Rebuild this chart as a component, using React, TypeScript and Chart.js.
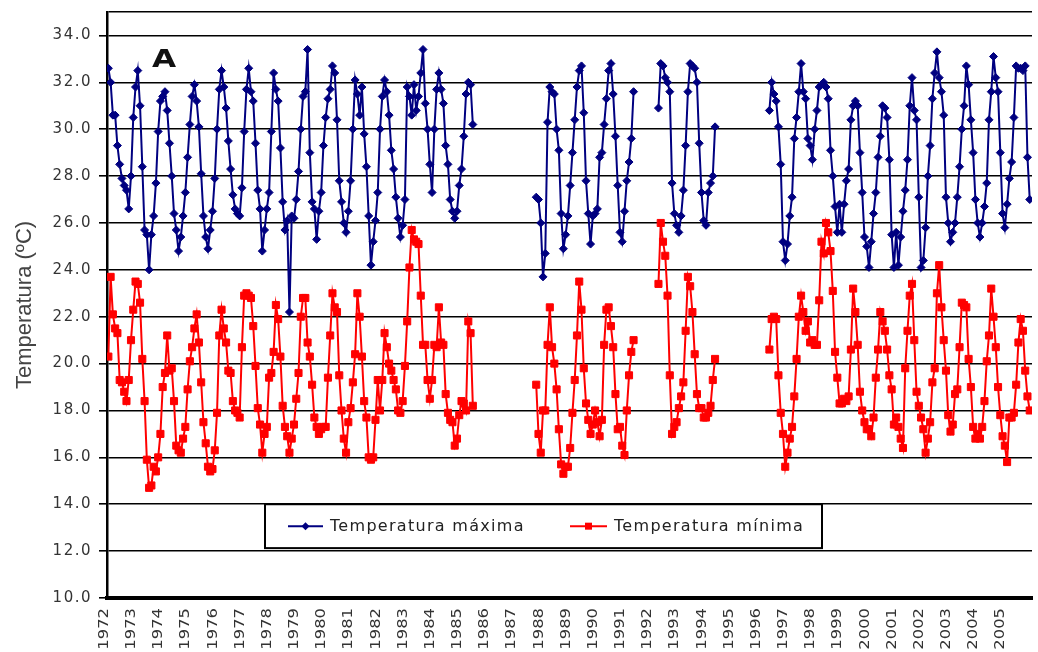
import { useEffect, useRef } from 'react';
import { Chart, registerables } from 'chart.js';

Chart.register(...registerables);

const _ = null;
const firstYear = 1972;

// x-axis tick labels (years)
const yearTicks = [
  1972, 1973, 1974, 1975, 1976, 1977, 1978, 1979, 1980, 1981, 1982, 1983,
  1984, 1985, 1986, 1987, 1988, 1989, 1990, 1991, 1992, 1993, 1994, 1995,
  1996, 1997, 1998, 1999, 2000, 2001, 2002, 2003, 2004, 2005,
];

// y-axis tick values
const yTicks = [10, 12, 14, 16, 18, 20, 22, 24, 26, 28, 30, 32, 34];

const seriesNames = ['Temperatura máxima', 'Temperatura mínima'];

// monthly maximum temperature, Jan..Dec per row, starting 1972
const tmax: (number | null)[] = [
  32.6, 32.0, 30.6, 30.6, 29.3, 28.5, 27.9, 27.6, 27.4, 26.6, 28.0, 30.5, // 1972
  31.8, 32.5, 31.0, 28.4, 25.7, 25.5, 24.0, 25.5, 26.3, 27.7, 29.9, 31.2, // 1973
  31.4, 31.6, 30.8, 29.4, 28.0, 26.4, 25.7, 24.8, 25.4, 26.3, 27.3, 28.8, // 1974
  30.2, 31.4, 31.9, 31.2, 30.1, 28.1, 26.3, 25.4, 24.9, 25.7, 26.5, 27.9, // 1975
  30.0, 31.7, 32.5, 31.8, 30.9, 29.5, 28.3, 27.2, 26.6, 26.4, 26.3, 27.5, // 1976
  29.9, 31.7, 32.6, 31.6, 31.2, 29.4, 27.4, 26.6, 24.8, 25.7, 26.6, 27.3, // 1977
  29.9, 32.4, 31.7, 31.2, 29.2, 26.9, 25.7, 26.1, 22.2, 26.3, 26.2, 27.0, // 1978
  28.2, 30.0, 31.4, 31.6, 33.4, 29.0, 26.9, 26.6, 25.3, 26.5, 27.3, 29.3, // 1979
  30.5, 31.3, 31.7, 32.7, 32.4, 30.4, 27.8, 26.9, 26.0, 25.6, 26.5, 27.8, // 1980
  30.0, 32.1, 31.5, 30.6, 31.8, 29.8, 28.4, 26.3, 24.2, 25.2, 26.1, 27.3, // 1981
  30.0, 31.4, 32.1, 31.6, 30.6, 29.1, 28.3, 27.1, 26.2, 25.4, 25.9, 27.0, // 1982
  31.8, 31.4, 30.6, 31.9, 30.8, 31.4, 32.4, 33.4, 31.1, 30.0, 28.5, 27.3, // 1983
  30.0, 31.7, 32.4, 31.7, 31.1, 29.3, 28.5, 27.0, 26.5, 26.2, 26.5, 27.6, // 1984
  28.3, 29.7, 31.5, 32.0, 31.9, 30.2, _, _, _, _, _, _, // 1985
  _, _, _, _, _, _, _, _, _, _, _, _, // 1986
  _, _, _, _, _, _, _, _, _, 27.1, 27.0, 26.0, // 1987
  23.7, 24.7, 30.3, 31.8, 31.6, 31.5, 30.0, 29.1, 26.4, 24.9, 25.5, 26.3, // 1988
  27.6, 29.0, 30.4, 31.8, 32.5, 32.7, 30.7, 27.8, 26.4, 25.1, 26.3, 26.4, // 1989
  26.6, 28.8, 29.0, 30.2, 31.3, 32.5, 32.8, 31.5, 29.7, 27.6, 25.6, 25.2, // 1990
  26.5, 27.8, 28.6, 29.6, 31.6, _, _, _, _, _, _, _, // 1991
  _, _, _, 30.9, 32.8, 32.7, 32.2, 32.0, 31.6, 27.7, 26.4, 25.9, // 1992
  25.6, 26.3, 27.4, 29.3, 31.6, 32.8, 32.7, 32.6, 32.0, 29.4, 27.3, 26.1, // 1993
  25.9, 27.3, 27.7, 28.0, 30.1, _, _, _, _, _, _, _, // 1994
  _, _, _, _, _, _, _, _, _, _, _, _, // 1995
  _, _, _, _, 30.8, 32.0, 31.5, 31.2, 30.1, 28.5, 25.2, 24.4, // 1996
  25.1, 26.3, 27.1, 29.6, 30.5, 31.6, 32.8, 31.6, 31.3, 29.6, 29.3, 28.7, // 1997
  30.0, 30.8, 31.8, 31.9, 32.0, 31.8, 31.3, 29.1, 28.0, 26.7, 25.6, 26.8, // 1998
  25.6, 26.8, 27.8, 28.3, 30.4, 31.0, 31.2, 31.0, 29.0, 27.3, 25.4, 25.0, // 1999
  24.1, 25.2, 26.4, 27.3, 28.8, 29.7, 31.0, 30.9, 30.5, 28.7, 25.5, 24.1, // 2000
  25.6, 24.2, 25.4, 26.5, 27.4, 28.7, 31.0, 32.2, 30.8, 30.4, 27.1, 24.1, // 2001
  24.4, 25.8, 28.0, 29.3, 31.3, 32.4, 33.3, 32.2, 31.6, 30.6, 27.1, 26.0, // 2002
  25.2, 25.6, 26.0, 27.1, 28.4, 30.0, 31.0, 32.7, 31.9, 30.4, 29.0, 27.0, // 2003
  26.0, 25.4, 26.0, 26.7, 27.7, 30.4, 31.6, 33.1, 32.2, 31.6, 29.0, 26.4, // 2004
  25.8, 26.8, 27.9, 28.6, 30.5, 32.7, 32.6, 32.6, 32.5, 32.7, 28.8, 27.0, // 2005
];

// monthly minimum temperature, Jan..Dec per row, starting 1972
const tmin: (number | null)[] = [
  20.3, 23.7, 22.1, 21.5, 21.3, 19.3, 19.2, 18.8, 18.4, 19.3, 21.0, 22.3, // 1972
  23.5, 23.4, 22.6, 20.2, 18.4, 15.9, 14.7, 14.8, 15.6, 15.4, 16.0, 17.0, // 1973
  19.0, 19.6, 21.2, 19.7, 19.8, 18.4, 16.5, 16.3, 16.2, 16.8, 17.3, 18.9, // 1974
  20.1, 20.7, 21.5, 22.1, 20.9, 19.2, 17.5, 16.6, 15.6, 15.4, 15.5, 16.3, // 1975
  17.9, 21.2, 22.3, 21.5, 20.9, 19.7, 19.6, 18.4, 18.0, 17.9, 17.7, 20.7, // 1976
  22.9, 23.0, 22.9, 22.8, 21.6, 19.9, 18.1, 17.4, 16.2, 17.0, 17.3, 19.4, // 1977
  19.6, 20.5, 22.5, 21.9, 20.3, 18.2, 17.3, 16.9, 16.2, 16.8, 17.4, 18.5, // 1978
  19.6, 22.0, 22.8, 22.8, 20.9, 20.3, 19.1, 17.7, 17.3, 17.0, 17.2, 17.3, // 1979
  17.3, 19.4, 21.2, 23.0, 22.4, 22.2, 19.5, 18.0, 16.8, 16.2, 17.5, 18.1, // 1980
  19.2, 20.4, 23.0, 22.0, 20.3, 18.4, 17.7, 16.0, 15.9, 16.0, 17.6, 19.3, // 1981
  18.0, 19.3, 21.3, 20.7, 20.0, 19.7, 19.3, 18.9, 18.0, 17.9, 18.4, 19.9, // 1982
  21.8, 24.1, 25.7, 25.3, 25.2, 25.1, 22.9, 20.8, 20.8, 19.3, 18.5, 19.3, // 1983
  20.8, 20.7, 22.4, 20.9, 20.8, 18.7, 17.9, 17.6, 17.5, 16.5, 16.8, 17.8, // 1984
  18.4, 18.3, 18.0, 21.8, 21.3, 18.2, _, _, _, _, _, _, // 1985
  _, _, _, _, _, _, _, _, _, _, _, _, // 1986
  _, _, _, _, _, _, _, _, _, 19.1, 17.0, 16.2, // 1987
  18.0, 18.0, 20.8, 22.4, 20.7, 20.0, 18.9, 17.2, 15.7, 15.3, 15.6, 15.6, // 1988
  16.4, 17.9, 19.3, 21.2, 23.5, 22.3, 19.8, 18.3, 17.6, 17.0, 17.4, 18.0, // 1989
  17.5, 16.9, 17.6, 20.8, 22.3, 22.4, 21.6, 20.7, 18.7, 17.2, 17.3, 16.5, // 1990
  16.1, 18.0, 19.5, 20.5, 21.0, _, _, _, _, _, _, _, // 1991
  _, _, _, 23.4, 26.0, 25.2, 24.6, 22.9, 19.5, 17.0, 17.3, 17.5, // 1992
  18.1, 18.6, 19.2, 21.4, 23.7, 23.3, 22.2, 20.4, 18.7, 18.1, 18.1, 17.7, // 1993
  17.7, 17.9, 18.2, 19.3, 20.2, _, _, _, _, _, _, _, // 1994
  _, _, _, _, _, _, _, _, _, _, _, _, // 1995
  _, _, _, _, 20.6, 21.9, 22.0, 21.9, 19.5, 17.9, 17.0, 15.6, // 1996
  16.2, 16.8, 17.3, 18.6, 20.2, 22.0, 22.9, 22.2, 21.4, 21.8, 20.9, 21.0, // 1997
  20.8, 20.8, 22.7, 25.2, 24.7, 26.0, 25.6, 24.8, 23.1, 20.5, 19.4, 18.3, // 1998
  18.3, 18.5, 18.4, 18.6, 20.6, 23.2, 22.2, 20.8, 18.8, 18.0, 17.5, 17.2, // 1999
  17.2, 16.9, 17.7, 19.4, 20.6, 22.2, 21.8, 21.4, 20.6, 19.5, 18.9, 17.4, // 2000
  17.7, 17.3, 16.8, 16.4, 19.8, 21.4, 22.9, 23.4, 21.0, 18.8, 18.2, 17.7, // 2001
  17.2, 16.2, 16.8, 17.5, 19.2, 19.8, 23.0, 24.2, 22.4, 21.0, 19.7, 17.8, // 2002
  17.1, 17.4, 18.7, 18.9, 20.7, 22.6, 22.5, 22.4, 20.2, 19.0, 17.3, 16.8, // 2003
  17.0, 16.8, 17.3, 18.4, 20.1, 21.2, 23.2, 22.0, 20.7, 19.0, 17.8, 16.9, // 2004
  16.5, 15.8, 17.7, 17.7, 17.9, 19.1, 20.9, 21.9, 21.4, 19.7, 18.6, 18.0, // 2005
];

const MAX_COLOR = '#000080';
const MIN_COLOR = '#ff0000';

const toPoints = (arr: (number | null)[]) =>
  arr.map((v, i) => ({ x: firstYear + i / 12, y: v }));

const decorPlugin = {
  id: 'decor',
  beforeUpdate(chart: any) {
    chart.ctx.letterSpacing = '1.5px';
  },
  beforeDraw(chart: any) {
    const ctx = chart.ctx;
    ctx.letterSpacing = '1.5px';
    ctx.save();
    ctx.fillStyle = '#ffffff';
    ctx.fillRect(0, 0, chart.width, chart.height);
    ctx.restore();
  },
  afterDatasetsDraw(chart: any) {
    const ctx = chart.ctx;
    const ys = chart.scales.y;
    const top = ys.getPixelForValue(14);
    const bottom = ys.getPixelForValue(12) - 3;
    const left = 265;
    const right = 822;
    ctx.save();
    ctx.fillStyle = '#ffffff';
    ctx.fillRect(left, top, right - left, bottom - top);
    ctx.strokeStyle = '#000000';
    ctx.lineWidth = 2;
    ctx.strokeRect(left, top, right - left, bottom - top);

    const cy = (top + bottom) / 2;
    // max item
    ctx.strokeStyle = MAX_COLOR;
    ctx.fillStyle = MAX_COLOR;
    ctx.lineWidth = 2;
    ctx.beginPath();
    ctx.moveTo(288, cy);
    ctx.lineTo(323, cy);
    ctx.stroke();
    ctx.beginPath();
    ctx.moveTo(305.5, cy - 4);
    ctx.lineTo(309.5, cy);
    ctx.lineTo(305.5, cy + 4);
    ctx.lineTo(301.5, cy);
    ctx.closePath();
    ctx.fill();
    // min item
    ctx.strokeStyle = MIN_COLOR;
    ctx.fillStyle = MIN_COLOR;
    ctx.beginPath();
    ctx.moveTo(570, cy);
    ctx.lineTo(607, cy);
    ctx.stroke();
    ctx.fillRect(585, cy - 3.5, 7, 7);

    ctx.fillStyle = '#222222';
    ctx.font = '16px "DejaVu Sans"';
    ctx.letterSpacing = '1.3px';
    ctx.textAlign = 'left';
    ctx.textBaseline = 'middle';
    ctx.fillText(seriesNames[0], 330, cy + 1);
    ctx.fillText(seriesNames[1], 614, cy + 1);
    ctx.restore();
  },
  afterDraw(chart: any) {
    const ctx = chart.ctx;
    const area = chart.chartArea;
    const xs = chart.scales.x;

    // year labels, rotated, read bottom-to-top
    ctx.save();
    ctx.letterSpacing = '0px';
    ctx.fillStyle = '#333333';
    ctx.font = '14px "DejaVu Sans"';
    ctx.textAlign = 'right';
    ctx.textBaseline = 'middle';
    for (const yr of yearTicks) {
      const px = xs.getPixelForValue(yr) - 4;
      ctx.save();
      ctx.translate(px, area.bottom + 10);
      ctx.rotate(-Math.PI / 2);
      ctx.scale(1.17, 1);
      ctx.fillText(String(yr), 0, 0);
      ctx.restore();
    }
    ctx.restore();

    // panel letter
    ctx.save();
    ctx.letterSpacing = '0px';
    ctx.fillStyle = '#111111';
    ctx.font = 'bold 24px "DejaVu Sans"';
    ctx.textAlign = 'left';
    ctx.textBaseline = 'alphabetic';
    ctx.translate(152, 67);
    ctx.scale(1.3, 1);
    ctx.fillText('A', 0, 0);
    ctx.restore();

    // y-axis title
    ctx.save();
    ctx.letterSpacing = '0px';
    ctx.fillStyle = '#444444';
    ctx.font = '22px "Liberation Sans"';
    ctx.textAlign = 'center';
    ctx.textBaseline = 'alphabetic';
    ctx.translate(31, (area.top + area.bottom) / 2);
    ctx.rotate(-Math.PI / 2);
    ctx.fillText('Temperatura (ºC)', 0, 0);
    ctx.restore();
  },
};

export default function App() {
  const canvasRef = useRef<HTMLCanvasElement | null>(null);

  useEffect(() => {
    if (!canvasRef.current) return;
    const yMax = 35;
    const chart = new Chart(canvasRef.current, {
      type: 'line',
      data: {
        datasets: [
          {
            label: seriesNames[0],
            data: toPoints(tmax),
            borderColor: MAX_COLOR,
            backgroundColor: MAX_COLOR,
            borderWidth: 2,
            pointStyle: 'rectRot',
            pointRadius: 4,
            pointBorderWidth: 1,
            pointBackgroundColor: MAX_COLOR,
            pointBorderColor: MAX_COLOR,
            tension: 0,
            spanGaps: false,
            fill: false,
          },
          {
            label: seriesNames[1],
            data: toPoints(tmin),
            borderColor: MIN_COLOR,
            backgroundColor: MIN_COLOR,
            borderWidth: 2,
            pointStyle: 'rect',
            pointRadius: 5,
            pointBorderWidth: 1,
            pointBackgroundColor: MIN_COLOR,
            pointBorderColor: MIN_COLOR,
            tension: 0,
            spanGaps: false,
            fill: false,
          },
        ],
      },
      options: {
        responsive: false,
        maintainAspectRatio: false,
        animation: false,
        layout: { padding: { top: 12, right: 0, bottom: 0, left: 0 } },
        plugins: {
          legend: { display: false },
          tooltip: { enabled: false },
          title: { display: false },
        },
        scales: {
          x: {
            type: 'linear',
            position: 'bottom',
            min: 1971.95,
            max: 2006.0,
            grid: { display: false, drawTicks: false },
            border: { display: true, color: '#000000', width: 4 },
            afterFit: (scale: any) => {
              scale.height = 54;
              scale.paddingLeft = 0;
              scale.paddingRight = 0;
            },
            ticks: { display: false, stepSize: 1 },
          },
          y: {
            type: 'linear',
            min: 10,
            max: yMax,
            afterBuildTicks: (scale: any) => {
              scale.ticks = [...yTicks, yMax].map((v) => ({ value: v }));
            },
            afterFit: (scale: any) => {
              scale.width = 107;
              scale.paddingTop = 0;
              scale.paddingBottom = 0;
            },
            grid: {
              color: '#000000',
              lineWidth: 1.6,
              drawTicks: true,
              tickLength: 8,
              tickColor: (c: any) =>
                c.tick && c.tick.value === yMax ? 'rgba(0,0,0,0)' : '#000000',
            },
            border: { display: true, color: '#000000', width: 2.5 },
            ticks: {
              padding: 7,
              color: '#333333',
              font: { family: '"DejaVu Sans"', size: 15 },
              callback: (v: any) => (v === yMax ? '' : Number(v).toFixed(1)),
            },
          },
        },
      },
      plugins: [decorPlugin],
    } as any);
    return () => chart.destroy();
  }, []);

  return (
    <div style={{ position: 'absolute', left: 0, top: 0, width: 1038, height: 652 }}>
      <canvas ref={canvasRef} width={1038} height={652} style={{ display: 'block' }} />
    </div>
  );
}
